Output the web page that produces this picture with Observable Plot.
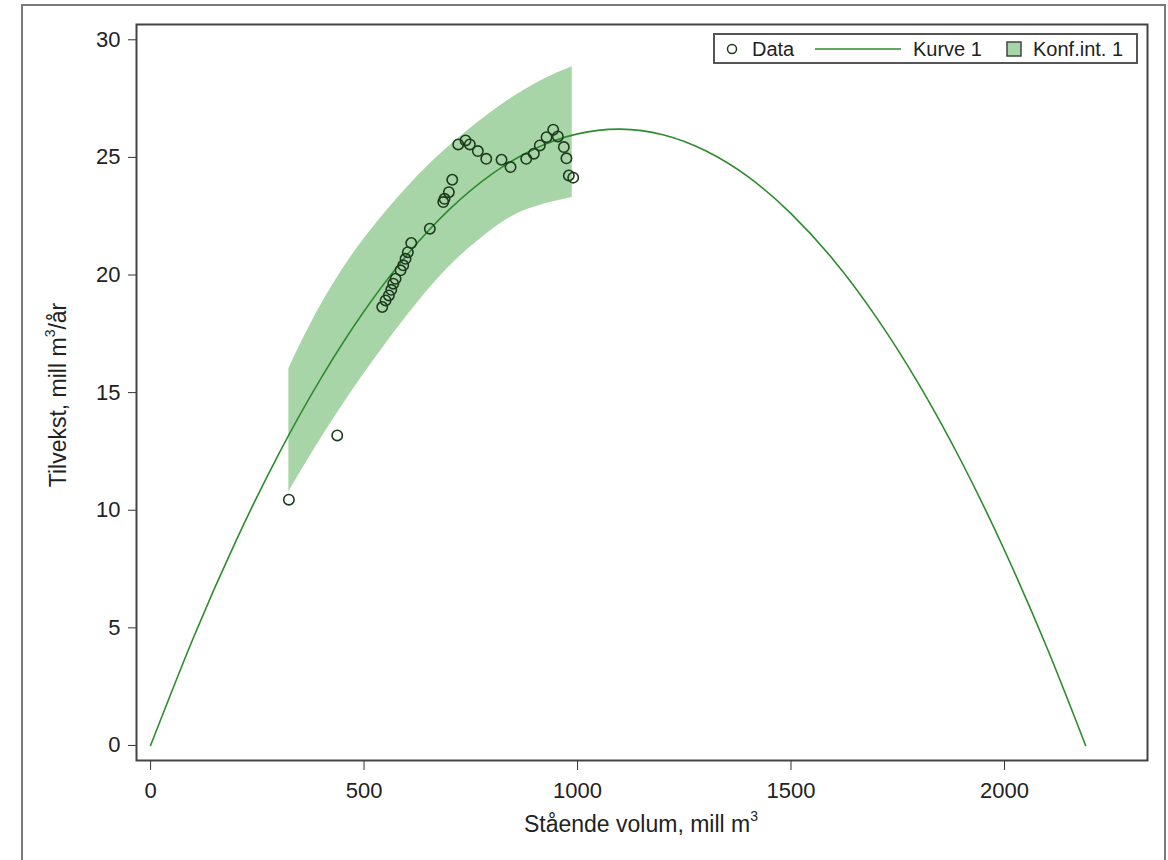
<!DOCTYPE html>
<html><head><meta charset="utf-8">
<script src="https://cdn.jsdelivr.net/npm/d3@7"></script>
<script src="https://cdn.jsdelivr.net/npm/@observablehq/plot@0.6"></script>
<style>
body{margin:0;background:#fff;font-family:"Liberation Sans",Arial,sans-serif;color:#222;}
#wrap{position:relative;width:1168px;height:860px;overflow:hidden;background:#fff;}
#border{position:absolute;left:21px;top:4px;width:1145px;height:900px;border:2px solid #7a7a7a;box-sizing:border-box;}
#chart{position:absolute;left:0;top:0;}
.title{position:absolute;font-size:23px;white-space:nowrap;text-align:center;line-height:26px;color:#222;}
.title sup{font-size:14px;line-height:0;position:relative;top:-2px;vertical-align:super;}
#xtitle{left:441px;width:400px;top:811px;}
#ytitle{left:-142px;width:400px;top:382px;transform:rotate(-90deg);}
#legend{position:absolute;left:713px;top:33px;width:425px;height:31px;border:2px solid #555;box-sizing:border-box;background:#fff;font-size:20px;}
#legend span{position:absolute;top:2px;line-height:24px;white-space:nowrap;}
#legend svg{position:absolute;left:0;top:0;}
</style>
</head><body>
<div id="wrap">
  <div id="border"></div>
  <div id="chart"></div>
  <div id="xtitle" class="title">Stående volum, mill m<sup>3</sup></div>
  <div id="ytitle" class="title">Tilvekst, mill m<sup>3</sup>/år</div>
  <div id="legend"></div>
</div>
<script>
// Observations (stående volum, tilvekst)
const dataX = [323.9, 437.2, 542.6, 550.4, 558.1, 563.7, 568.4, 573.8, 585.5, 591.8, 597.2, 602.6, 610.5, 654.1, 685.5, 688.5, 698.6, 706.6, 720.6, 737.7, 747.8, 766.5, 786.2, 822.0, 843.1, 879.9, 897.7, 911.7, 927.4, 943.1, 953.9, 967.9, 974.0, 979.6, 989.9];
const dataY = [10.45, 13.18, 18.64, 18.92, 19.13, 19.37, 19.63, 19.84, 20.20, 20.41, 20.69, 20.97, 21.36, 21.97, 23.10, 23.24, 23.52, 24.05, 25.55, 25.72, 25.55, 25.27, 24.94, 24.90, 24.59, 24.94, 25.16, 25.51, 25.86, 26.18, 25.89, 25.44, 24.96, 24.23, 24.14];

// Kurve 1 (fitted curve)
const curveX = [0, 100, 200, 300, 400, 500, 600, 700, 800, 900, 1000, 1100, 1200, 1300, 1400, 1500, 1600, 1700, 1800, 1900, 2000, 2100, 2190];
const curveY = [0, 4.57, 8.70, 12.39, 15.64, 18.46, 20.84, 22.79, 24.30, 25.37, 26.00, 26.20, 25.96, 25.28, 24.17, 22.61, 20.63, 18.20, 15.34, 12.04, 8.30, 4.13, 0];

// Konf.int. 1 (upper and lower edges)
const upperX = [323.9, 378.7, 472.4, 597.2, 710.3, 819.7, 913.3, 987.6];
const upperY = [16.02, 18.05, 20.85, 23.65, 25.65, 27.21, 28.25, 28.85];
const lowerX = [323.9, 374.7, 476.1, 589.5, 686.9, 772.8, 866.5, 987.6];
const lowerY = [10.77, 12.33, 15.17, 18.00, 20.12, 21.54, 22.67, 23.30];

// Axis ticks
const xTicks = [0, 500, 1000, 1500, 2000];
const yTicks = [0, 5, 10, 15, 20, 25, 30];

const bandColor = "#a8d5a8";
const lineColor = "#2e8b2e";
const dotColor = "#1d3b1d";

const points = dataX.map((x, i) => ({x, y: dataY[i]}));
const curve = curveX.map((x, i) => ({x, y: curveY[i]}));
const band = upperX.map((x, i) => ({x1: x, y1: upperY[i], x2: lowerX[i], y2: lowerY[i]}));

const chart = Plot.plot({
  width: 1168,
  height: 860,
  marginLeft: 136,
  marginRight: 21,
  marginTop: 24,
  marginBottom: 100,
  style: {fontSize: "22px", fontFamily: "Liberation Sans, Arial, sans-serif", color: "#222", background: "transparent"},
  x: {domain: [-33, 2335]},
  y: {domain: [-0.64, 30.65]},
  marks: [
    Plot.area(band, {x1: "x1", y1: "y1", x2: "x2", y2: "y2", fill: bandColor, curve: "natural"}),
    Plot.line(curve, {x: "x", y: "y", stroke: lineColor, strokeWidth: 1.6, curve: "natural"}),
    Plot.dot(points, {x: "x", y: "y", r: 5.2, stroke: dotColor, strokeWidth: 1.6, fill: "none"}),
    Plot.axisX({ticks: xTicks, tickSize: 10, tickPadding: 12, tickFormat: d3.format("d"), label: null, stroke: "#333"}),
    Plot.axisY({ticks: yTicks, tickSize: 8, tickPadding: 8, tickFormat: d3.format("d"), label: null, stroke: "#333"}),
    Plot.frame({stroke: "#444", strokeWidth: 2})
  ]
});
document.getElementById("chart").appendChild(chart);

// Legend
const legend = document.getElementById("legend");
legend.innerHTML = `
<svg width="425" height="31">
  <circle cx="17" cy="14" r="4.5" fill="none" stroke="${dotColor}" stroke-width="1.5"></circle>
  <line x1="100" x2="186" y1="14" y2="14" stroke="${lineColor}" stroke-width="1.6"></line>
  <rect x="292" y="7" width="14" height="14" fill="${bandColor}" stroke="#444" stroke-width="1.5"></rect>
</svg>
<span style="left:37px">Data</span>
<span style="left:198px">Kurve 1</span>
<span style="left:318px">Konf.int. 1</span>`;
</script>
</body></html>
